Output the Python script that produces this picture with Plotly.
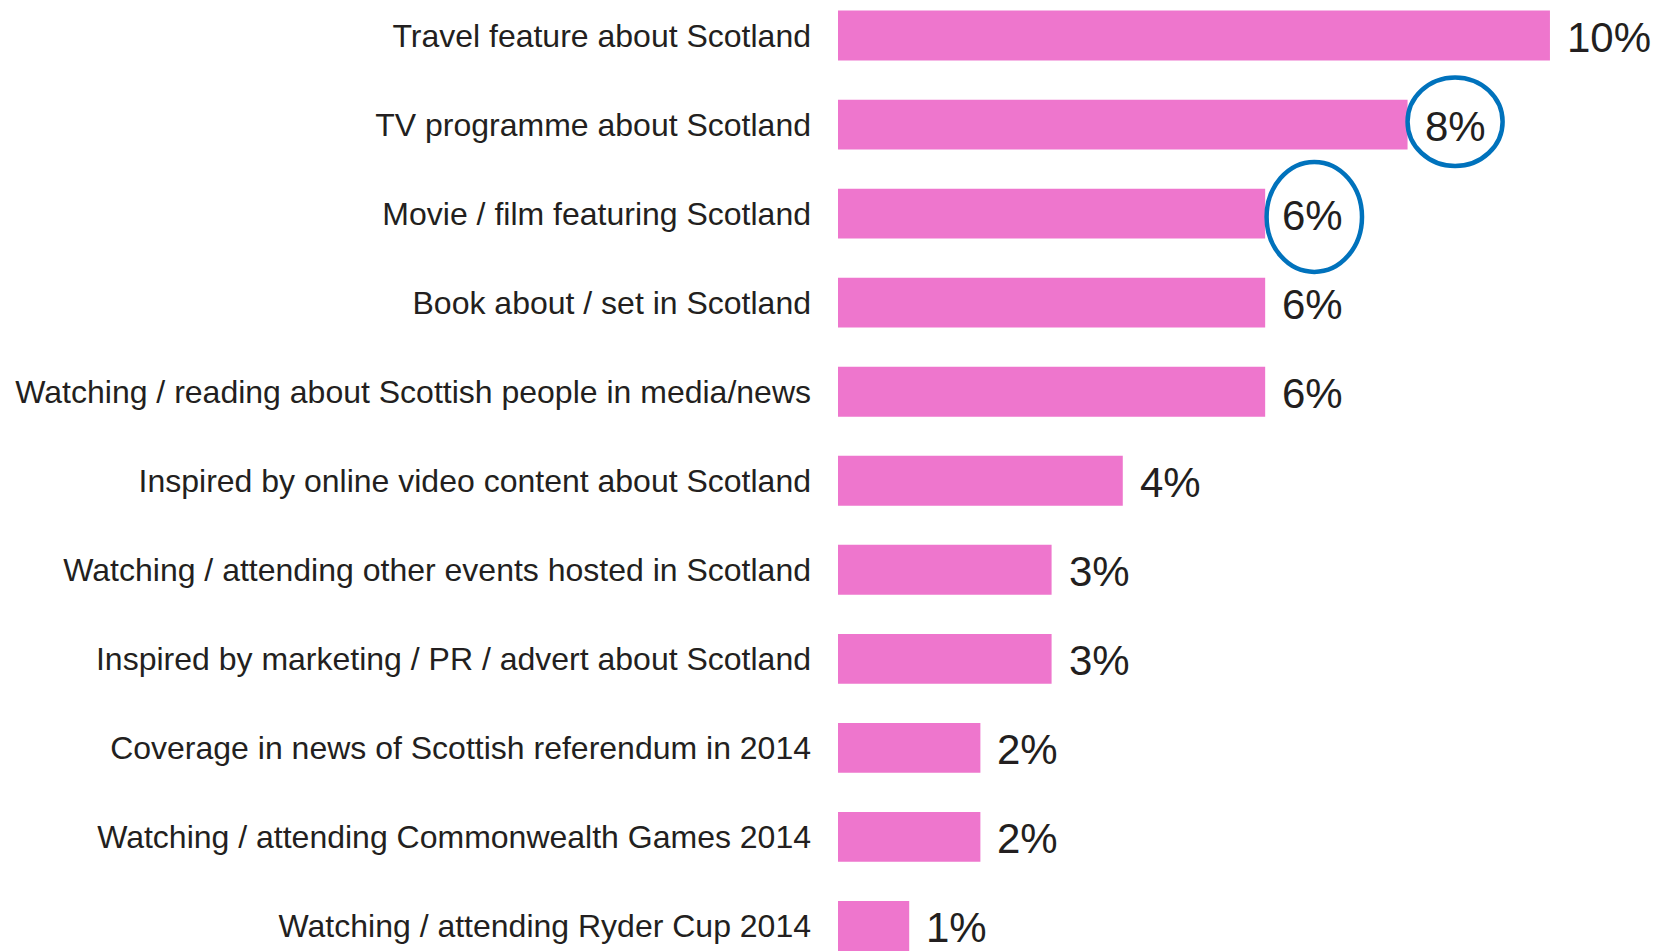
import plotly.graph_objects as go

categories = [
    "Travel feature about Scotland",
    "TV programme about Scotland",
    "Movie / film featuring Scotland",
    "Book about / set in Scotland",
    "Watching / reading about Scottish people in media/news",
    "Inspired by online video content about Scotland",
    "Watching / attending other events hosted in Scotland",
    "Inspired by marketing / PR / advert about Scotland",
    "Coverage in news of Scottish referendum in 2014",
    "Watching / attending Commonwealth Games 2014",
    "Watching / attending Ryder Cup 2014",
]
values = [10, 8, 6, 6, 6, 4, 3, 3, 2, 2, 1]
# rows whose value labels get a ring drawn around them
highlighted = ["TV programme about Scotland", "Movie / film featuring Scotland"]

BAR = "#EE76CD"
INK = "#231F20"
RING = "#0072BC"
FONT = "Arial, Liberation Sans, sans-serif"

fig = go.Figure(
    go.Bar(
        x=values,
        y=categories,
        orientation="h",
        marker=dict(color=BAR, line=dict(width=0)),
        width=0.56,
        hoverinfo="skip",
    )
)

# value labels to the right of each bar
for cat, v in zip(categories, values):
    fig.add_annotation(
        x=v, y=cat, text=f"{v}%", showarrow=False,
        xanchor="left", yanchor="middle", xshift=15, yshift=-2,
        font=dict(family=FONT, size=42, color=INK),
    )

# rings around the highlighted value labels
ring_extent = {
    "TV programme about Scotland": (0.0, 1.335, -0.53, 0.465),
    "Movie / film featuring Scotland": (0.02, 1.36, -0.58, 0.655),
}
for cat in highlighted:
    i = categories.index(cat)
    v = values[i]
    dx0, dx1, dy0, dy1 = ring_extent[cat]
    fig.add_shape(
        type="circle", xref="x", yref="y",
        x0=v + dx0, x1=v + dx1, y0=i + dy0, y1=i + dy1,
        line=dict(color=RING, width=4.5), fillcolor="rgba(0,0,0,0)",
    )

fig.update_layout(
    width=1666, height=951,
    margin=dict(l=838, r=0, t=0, b=0),
    paper_bgcolor="white", plot_bgcolor="white",
    showlegend=False,
    font=dict(family=FONT, color=INK),
    xaxis=dict(range=[0, 11.63], visible=False, fixedrange=True),
    yaxis=dict(
        type="category",
        categoryorder="array", categoryarray=categories,
        range=[10.281, -0.399],
        showgrid=False, zeroline=False, showline=False, ticks="",
        ticklabelstandoff=26,
        tickfont=dict(family=FONT, size=32, color=INK),
        fixedrange=True,
    ),
)

fig.write_html("out.html", config={"displayModeBar": False})
